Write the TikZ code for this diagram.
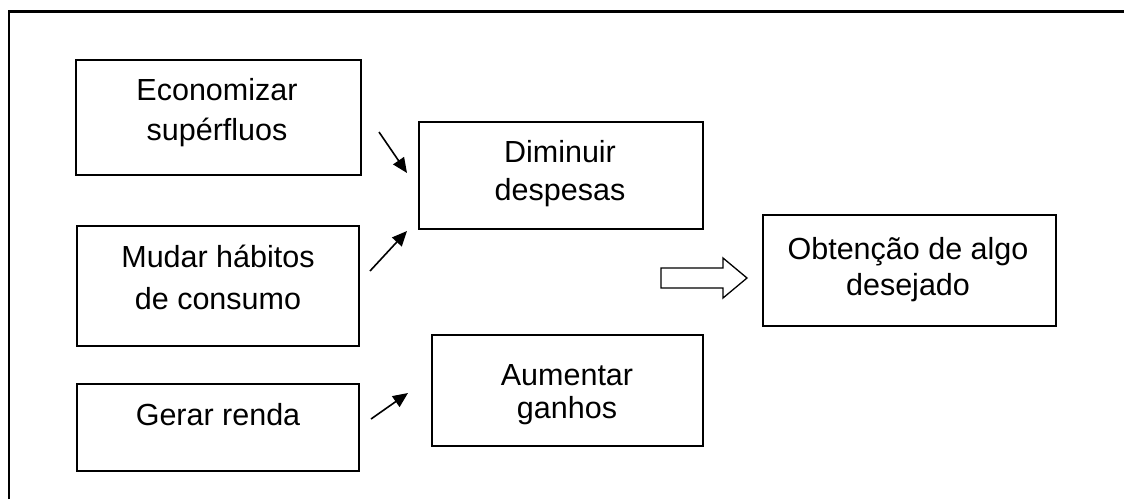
\documentclass[tikz,border=0pt]{standalone}
\usepackage{fontspec}
\setmainfont{Liberation Sans}
\usetikzlibrary{arrows.meta}
\tikzset{
  box/.style={draw, line width=1.5pt, rectangle, inner sep=0pt},
  lbl/.style={font=\fontsize{30.5}{#1}\selectfont, align=center, inner sep=0pt, anchor=base},
  lbl/.default=38,
  conn/.style={line width=1.6pt, -{Triangle[length=15pt,width=13pt]}},
  frame/.style={line width=2.5pt},
  blockarrow/.style={line width=1.3pt, line join=miter}
}
\begin{document}
\begin{tikzpicture}[x=1pt,y=-1pt]
\useasboundingbox (0,0) rectangle (1124,499);
% outer frame (open at right and bottom)
\draw[frame] (9,499) -- (9,11.5) -- (1124,11.5);

% boxes
\node[box, minimum width=285pt, minimum height=115pt] (econ) at (218.5,117.5) {};
\node[box, minimum width=284pt, minimum height=107pt] (dimi) at (561,175.5) {};
\node[box, minimum width=282pt, minimum height=120pt] (mudar) at (218,286) {};
\node[box, minimum width=293pt, minimum height=111pt] (obt) at (909.5,270.5) {};
\node[box, minimum width=282pt, minimum height=87pt] (gerar) at (218,427.5) {};
\node[box, minimum width=271pt, minimum height=111pt] (aum) at (567.5,390.5) {};

% labels (anchor = baseline of the last line)
\node[lbl=40] (econ-t) at (217,140) {Economizar\\supérfluos};
\node[lbl=38] (dimi-t) at (560,200) {Diminuir\\despesas};
\node[lbl=42] (mudar-t) at (218,309) {Mudar hábitos\\de consumo};
\node[lbl=36] (obt-t) at (908,295) {Obtenção de algo\\desejado};
\node[lbl] (gerar-t) at (218,425) {Gerar renda};
\node[lbl=33] (aum-t) at (567,418) {Aumentar\\ganhos};

% connector end points
\coordinate (a1s) at (379,132);
\coordinate (a1e) at (407,173);
\coordinate (a2s) at (370,271);
\coordinate (a2e) at (407,231);
\coordinate (a3s) at (371,419);
\coordinate (a3e) at (408,393);
\draw[conn] (a1s) -- (a1e);
\draw[conn] (a2s) -- (a2e);
\draw[conn] (a3s) -- (a3e);

% block arrow
\draw[blockarrow] (661,268) -- (723,268) -- (723,258) -- (747,278) -- (723,298) -- (723,288) -- (661,288) -- cycle;
\end{tikzpicture}
\end{document}
